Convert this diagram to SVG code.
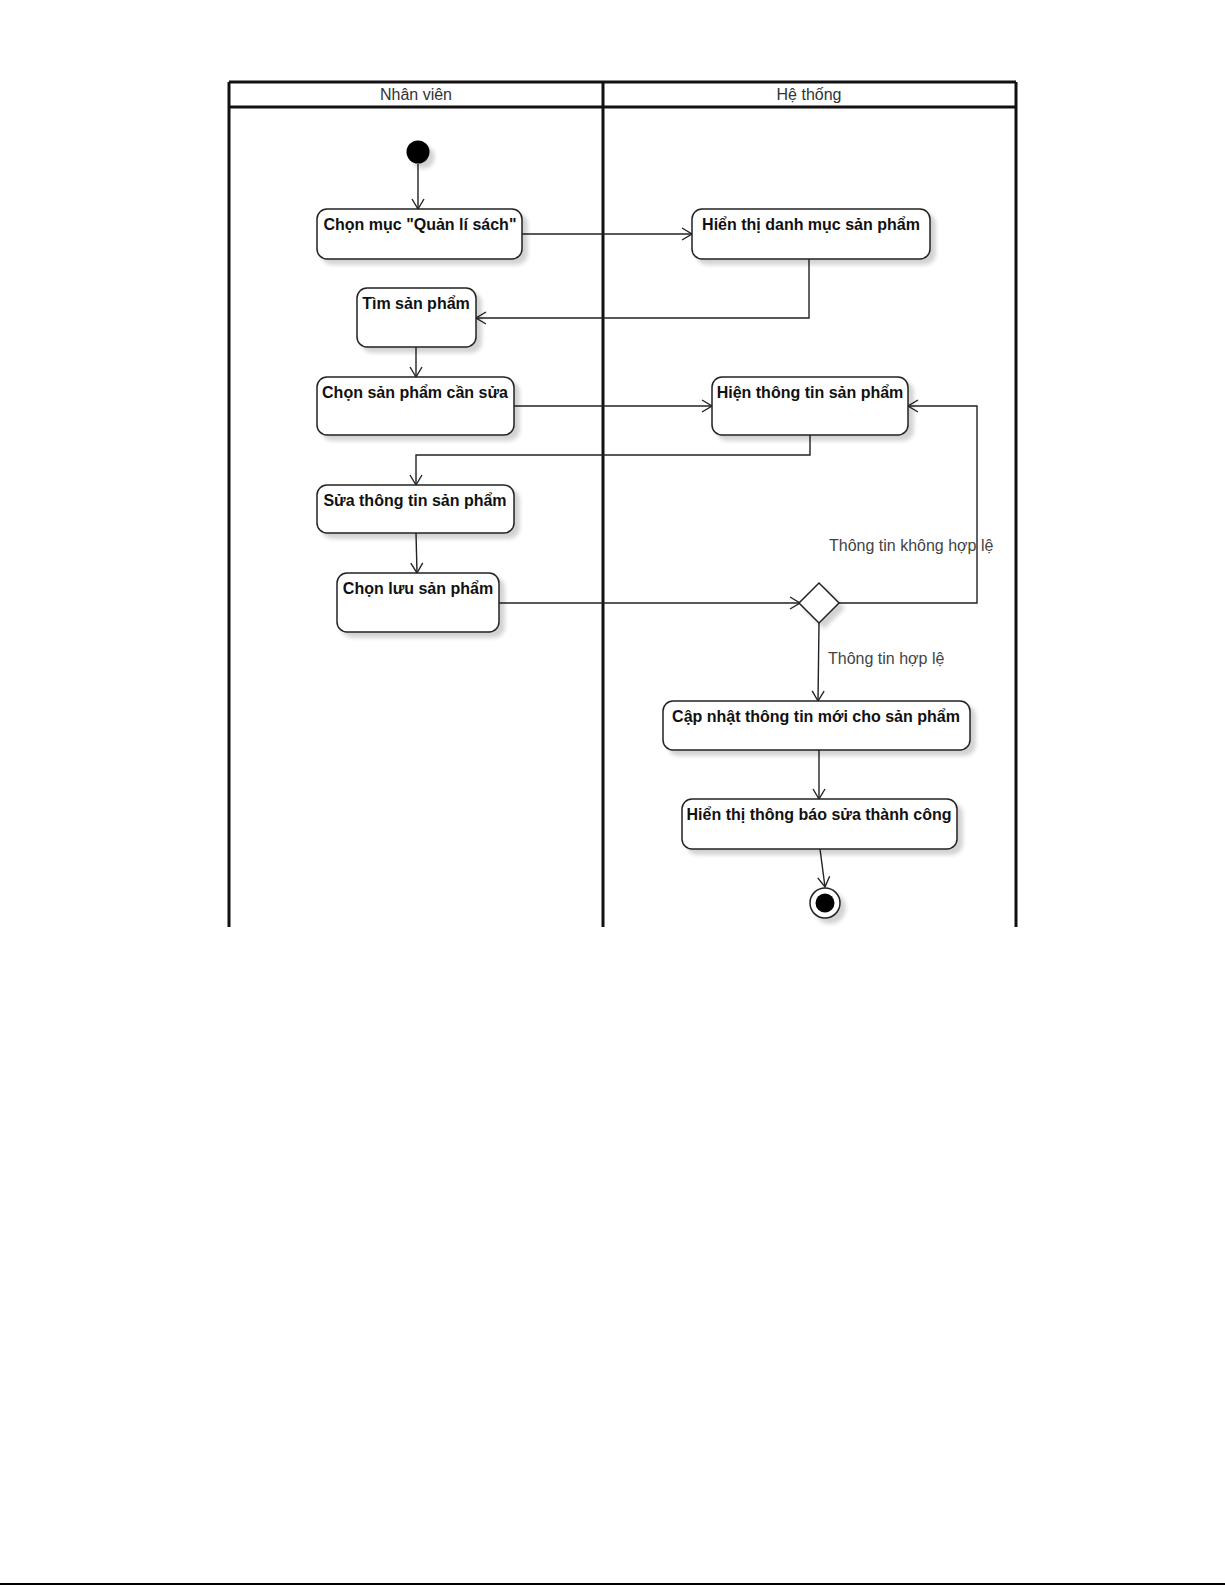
<svg xmlns="http://www.w3.org/2000/svg" width="1225" height="1585" viewBox="0 0 1225 1585">
<style>
.lane{fill:none;stroke:#111;stroke-width:3}
.hdr{font-family:"Liberation Sans",Arial,sans-serif;font-size:16px;fill:#333;text-anchor:middle}
.box{fill:#fff;stroke:#222;stroke-width:1.5}
.bt{font-family:"Liberation Sans",Arial,sans-serif;font-size:16px;font-weight:bold;fill:#111;text-anchor:middle}
.lbl{font-family:"Liberation Sans",Arial,sans-serif;font-size:16px;fill:#444}
.c{fill:none;stroke:#222;stroke-width:1.4}
</style>
<defs>
<filter id="sh" x="-20%" y="-20%" width="150%" height="160%">
<feGaussianBlur in="SourceAlpha" stdDeviation="2"/>
<feOffset dx="5" dy="5" result="b"/>
<feComponentTransfer><feFuncA type="linear" slope="0.18"/></feComponentTransfer>
<feMerge><feMergeNode/><feMergeNode in="SourceGraphic"/></feMerge>
</filter>
<marker id="ar" markerWidth="14" markerHeight="14" refX="11" refY="7" orient="auto" markerUnits="userSpaceOnUse">
<path d="M1,1 L11,7 L1,13" fill="none" stroke="#222" stroke-width="1.4"/>
</marker>
</defs>
<rect width="1225" height="1585" fill="#fff"/>
<g id="lanes">
<line class="lane" x1="229" y1="82" x2="1016" y2="82"/>
<line class="lane" x1="229" y1="107" x2="1016" y2="107"/>
<line class="lane" x1="229" y1="82" x2="229" y2="927"/>
<line class="lane" x1="603" y1="82" x2="603" y2="927"/>
<line class="lane" x1="1016" y1="82" x2="1016" y2="927"/>
<text class="hdr" x="416" y="100">Nhân viên</text>
<text class="hdr" x="809" y="100">Hệ thống</text>
</g>
<g id="connectors">
<path class="c" d="M418,164 L418,209" marker-end="url(#ar)"/>
<path class="c" d="M522,234 L692,234" marker-end="url(#ar)"/>
<path class="c" d="M809,259 L809,318 L476,318" marker-end="url(#ar)"/>
<path class="c" d="M416,347 L416,377" marker-end="url(#ar)"/>
<path class="c" d="M514,406 L712,406" marker-end="url(#ar)"/>
<path class="c" d="M810,435 L810,455 L416,455 L416,485" marker-end="url(#ar)"/>
<path class="c" d="M416,533 L417,573" marker-end="url(#ar)"/>
<path class="c" d="M499,603 L800,603" marker-end="url(#ar)"/>
<path class="c" d="M839,603 L977,603 L977,406 L908,406" marker-end="url(#ar)"/>
<path class="c" d="M819,623 L818,701" marker-end="url(#ar)"/>
<path class="c" d="M819,750 L819,799" marker-end="url(#ar)"/>
<path class="c" d="M820,849 L825,887" marker-end="url(#ar)"/>
<text class="lbl" x="829" y="551">Thông tin không hợp lệ</text>
<text class="lbl" x="828" y="664">Thông tin hợp lệ</text>
</g>
<g id="start"><circle cx="418" cy="152" r="11.5" fill="#000" filter="url(#sh)"/></g>
<g id="n1"><rect class="box" x="317" y="209" width="205" height="50" rx="10" filter="url(#sh)"/><text class="bt" x="420" y="230">Chọn mục "Quản lí sách"</text></g>
<g id="n2"><rect class="box" x="692" y="209" width="238" height="50" rx="10" filter="url(#sh)"/><text class="bt" x="811" y="230">Hiển thị danh mục sản phẩm</text></g>
<g id="n3"><rect class="box" x="357" y="288" width="119" height="59" rx="10" filter="url(#sh)"/><text class="bt" x="416" y="309">Tìm sản phẩm</text></g>
<g id="n4"><rect class="box" x="317" y="377" width="197" height="58" rx="10" filter="url(#sh)"/><text class="bt" x="415" y="398">Chọn sản phẩm cần sửa</text></g>
<g id="n5"><rect class="box" x="712" y="377" width="196" height="58" rx="10" filter="url(#sh)"/><text class="bt" x="810" y="398">Hiện thông tin sản phẩm</text></g>
<g id="n6"><rect class="box" x="317" y="485" width="197" height="48" rx="10" filter="url(#sh)"/><text class="bt" x="415" y="506">Sửa thông tin sản phẩm</text></g>
<g id="n7"><rect class="box" x="337" y="573" width="162" height="59" rx="10" filter="url(#sh)"/><text class="bt" x="418" y="594">Chọn lưu sản phẩm</text></g>
<g id="decision"><path class="box" d="M819,583 L839,603 L819,623 L799,603 Z" filter="url(#sh)"/></g>
<g id="n8"><rect class="box" x="663" y="701" width="307" height="49" rx="10" filter="url(#sh)"/><text class="bt" x="816" y="722">Cập nhật thông tin mới cho sản phẩm</text></g>
<g id="n9"><rect class="box" x="682" y="799" width="275" height="50" rx="10" filter="url(#sh)"/><text class="bt" x="819" y="820">Hiển thị thông báo sửa thành công</text></g>
<g id="end"><circle cx="825" cy="903" r="15" fill="#fff" stroke="#222" stroke-width="1.5" filter="url(#sh)"/><circle cx="825" cy="903" r="9.5" fill="#000"/></g>
<rect x="0" y="1583" width="1225" height="2" fill="#000"/>
</svg>
